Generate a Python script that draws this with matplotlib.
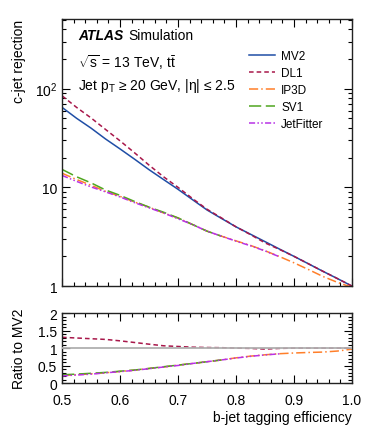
import matplotlib
matplotlib.use("Agg")
import matplotlib.pyplot as plt
import numpy as np
from matplotlib.ticker import MultipleLocator, LogLocator, FixedLocator, FixedFormatter, NullFormatter

plt.rcParams['font.family'] = ['Liberation Sans', 'DejaVu Sans']
plt.rcParams['mathtext.fontset'] = 'custom'
plt.rcParams['mathtext.rm'] = 'Liberation Sans'
plt.rcParams['mathtext.it'] = 'Liberation Sans:italic'
plt.rcParams['mathtext.bf'] = 'Liberation Sans:bold'

# b-jet efficiency grid and c-jet rejection
eff = [0.5, 0.525, 0.55, 0.575, 0.6, 0.625, 0.65, 0.675, 0.7, 0.725, 0.75,
       0.775, 0.8, 0.825, 0.85, 0.875, 0.9, 0.925, 0.95, 0.975, 1.0]
mv2 = [64.6, 50.1, 39.8, 30.9, 24.5, 19.3, 15.1, 12.0, 9.55, 7.5, 5.9,
       4.84, 3.98, 3.35, 2.82, 2.37, 2.0, 1.68, 1.41, 1.19, 1.0]
dl1 = [84.6, 64.6, 50.5, 38.6, 29.6, 22.4, 16.8, 12.8, 10.0, 7.7, 6.0,
       4.9, 3.98, 3.32, 2.74, 2.35, 2.0, 1.68, 1.41, 1.19, 1.0]
ip3d = [13.9, 12.0, 10.5, 9.1, 8.1, 7.1, 6.3, 5.5, 4.9, 4.2, 3.6,
        3.2, 2.87, 2.58, 2.28, 1.99, 1.72, 1.47, 1.25, 1.09, 0.97]
sv1 = [15.2, 12.8, 11.1, 9.4, 8.3, 7.2, 6.3, 5.6, 4.9, 4.2, 3.6, 3.2]
jetfitter = [13.2, 11.5, 10.1, 9.0, 8.0, 7.0, 6.2, 5.5, 4.8, 4.2, 3.6,
             3.2, 2.85, 2.56, 2.27, 1.98]

taggers = ["MV2", "DL1", "IP3D", "SV1", "JetFitter"]
curves = [mv2, dl1, ip3d, sv1, jetfitter]
colors = ["#1f4ea6", "#a8174a", "#ff7f2a", "#4fa61f", "#b833e6"]
styles = ["-", (0, (3, 2)), (0, (6, 2, 1, 2)), (0, (8, 3)), (0, (4, 1.5, 1, 1.5, 1, 1.5))]

fig = plt.figure(figsize=(3.74, 4.31), dpi=100)
ax = fig.add_axes([0.166, 0.334, 0.775, 0.620])
rax = fig.add_axes([0.166, 0.109, 0.775, 0.162])

mv2_arr = np.array(mv2)
for name, vals, c, ls in zip(taggers, curves, colors, styles):
    x = np.array(eff[:len(vals)])
    ax.plot(x, vals, color=c, ls=ls, lw=1.1, label=name)
    if name != "MV2":
        rax.plot(x, np.array(vals) / mv2_arr[:len(vals)], color=c, ls=ls, lw=1.1, zorder=2)
rax.axhline(1.0, color="#b0b0b0", lw=1.3, zorder=3)

# main panel
ax.set_yscale("log")
ax.set_xlim(0.5, 1.0)
ax.set_ylim(1, 510)
ax.yaxis.set_major_locator(FixedLocator([1, 10, 100]))
ax.yaxis.set_major_formatter(FixedFormatter(["1", "10", r"10$^{2}$"]))
ax.yaxis.set_minor_locator(LogLocator(base=10, subs=np.arange(2, 10)))
ax.yaxis.set_minor_formatter(NullFormatter())
ax.xaxis.set_major_locator(MultipleLocator(0.1))
ax.xaxis.set_minor_locator(MultipleLocator(0.02))
ax.tick_params(labelbottom=False)
ax.set_ylabel("c-jet rejection", fontsize=10, loc="top")

ax.text(0.055, 0.965, "ATLAS", transform=ax.transAxes, fontsize=10, va="top",
        fontweight="bold", fontstyle="italic")
ax.text(0.228, 0.965, "Simulation", transform=ax.transAxes, fontsize=10, va="top")
ax.text(0.055, 0.875, r"$\sqrt{\mathrm{s}}$ = 13 TeV, $\mathrm{t\bar{t}}$", transform=ax.transAxes,
        fontsize=10, va="top")
ax.text(0.055, 0.787, r"Jet p$_{\mathrm{T}}$ ≥ 20 GeV, |η| ≤ 2.5", transform=ax.transAxes,
        fontsize=10, va="top")

ax.legend(loc="upper left", bbox_to_anchor=(0.625, 0.905), frameon=False, fontsize=8.5,
          handlelength=2.2, handletextpad=0.5, labelspacing=0.42, borderpad=0)

# ratio panel
rax.set_xlim(0.5, 1.0)
rax.set_ylim(0, 2)
rax.xaxis.set_major_locator(MultipleLocator(0.1))
rax.xaxis.set_minor_locator(MultipleLocator(0.02))
rax.yaxis.set_major_locator(FixedLocator([0, 0.5, 1, 1.5, 2]))
rax.yaxis.set_major_formatter(FixedFormatter(["0", "0.5", "1", "1.5", "2"]))
rax.yaxis.set_minor_locator(MultipleLocator(0.1))
rax.set_ylabel("Ratio to MV2", fontsize=10)
rax.set_xlabel("b-jet tagging efficiency", fontsize=10, loc="right", labelpad=2)

for a in (ax, rax):
    a.tick_params(which="both", direction="in", top=True, right=True, labelsize=10)
    a.tick_params(which="major", length=6, width=0.8)
    a.tick_params(which="minor", length=3, width=0.8)
    for s in a.spines.values():
        s.set_linewidth(1.0)
        s.set_color("#222222")
rax.tick_params(axis="x", pad=7)

ax.yaxis.set_label_coords(-0.125, 1.0)
rax.yaxis.set_label_coords(-0.125, 0.5)

fig.savefig("out.png", dpi=100)
